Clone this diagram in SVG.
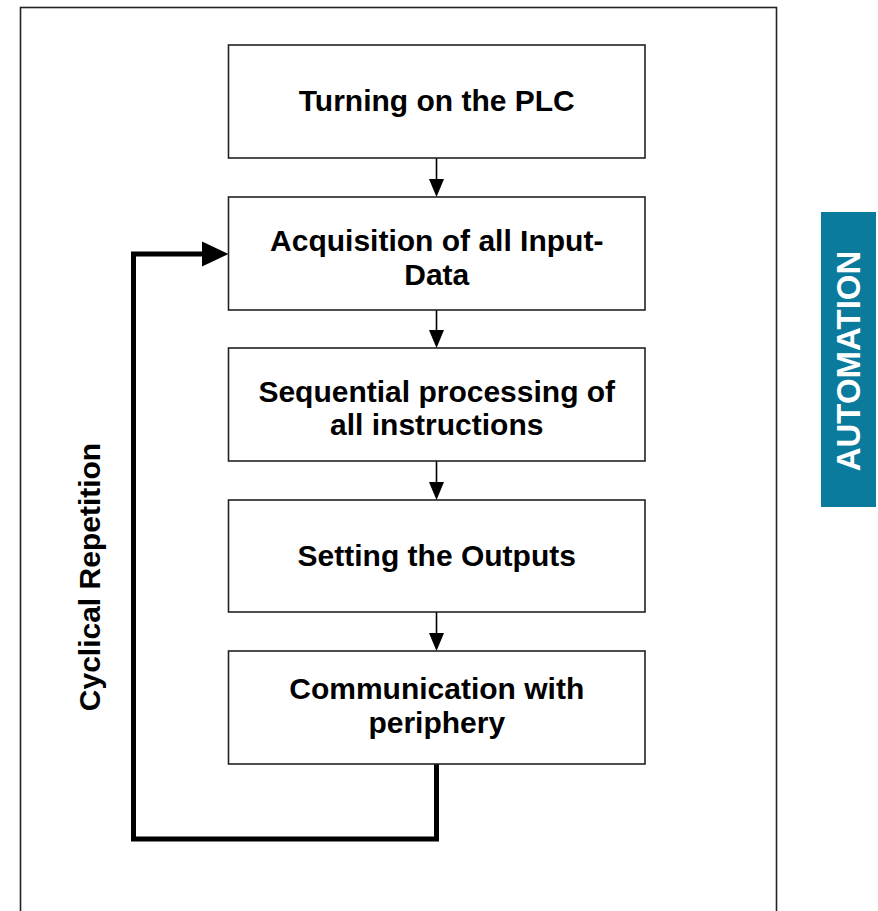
<svg xmlns="http://www.w3.org/2000/svg" width="878" height="911" viewBox="0 0 878 911">
<style>
.box{fill:#fff;stroke:#222;stroke-width:1.6}
.t{font-family:"Liberation Sans",Arial,sans-serif;font-weight:bold;font-size:30px;fill:#000;text-anchor:middle}
.c{stroke:#000;stroke-width:1.6;fill:none}
.loop{stroke:#000;stroke-width:5;fill:none;stroke-linejoin:miter}
</style>
<rect width="878" height="911" fill="#fff"/>
<rect id="frame" x="20.5" y="7.5" width="756" height="920" fill="none" stroke="#222" stroke-width="1.6"/>
<g id="automation">
<rect x="821" y="212" width="55" height="295" fill="#0a7b9c"/>
<text transform="translate(860,361) rotate(-90)" font-family="Liberation Sans,Arial,sans-serif" font-weight="bold" font-size="33" fill="#fff" text-anchor="middle">AUTOMATION</text>
</g>
<g id="connectors">
<line class="c" x1="436.5" y1="158" x2="436.5" y2="179" />
<path d="M429,179 L444,179 L436.5,197 Z" fill="#000"/>
<line class="c" x1="436.5" y1="310" x2="436.5" y2="330" />
<path d="M429,330 L444,330 L436.5,348 Z" fill="#000"/>
<line class="c" x1="436.5" y1="461" x2="436.5" y2="482" />
<path d="M429,482 L444,482 L436.5,500 Z" fill="#000"/>
<line class="c" x1="436.5" y1="612" x2="436.5" y2="633" />
<path d="M429,633 L444,633 L436.5,651 Z" fill="#000"/>
<path class="loop" d="M436.5,764 L436.5,839 L133.5,839 L133.5,254 L205,254"/>
<path d="M202,241.5 L228.5,254 L202,266.5 Z" fill="#000"/>
</g>
<g id="n1">
<rect class="box" x="228.5" y="45" width="416.5" height="113"/>
<text class="t" x="436.75" y="111">Turning on the PLC</text>
</g>
<g id="n2">
<rect class="box" x="228.5" y="197" width="416.5" height="113"/>
<text class="t" x="436.75" y="251">Acquisition of all Input-</text>
<text class="t" x="436.75" y="285">Data</text>
</g>
<g id="n3">
<rect class="box" x="228.5" y="348" width="416.5" height="113"/>
<text class="t" x="436.75" y="402">Sequential processing of</text>
<text class="t" x="436.75" y="435">all instructions</text>
</g>
<g id="n4">
<rect class="box" x="228.5" y="500" width="416.5" height="112"/>
<text class="t" x="436.75" y="566">Setting the Outputs</text>
</g>
<g id="n5">
<rect class="box" x="228.5" y="651" width="416.5" height="113"/>
<text class="t" x="436.75" y="699">Communication with</text>
<text class="t" x="436.75" y="733">periphery</text>
</g>
<g id="label">
<text class="t" transform="translate(100,577) rotate(-90)">Cyclical Repetition</text>
</g>
</svg>
